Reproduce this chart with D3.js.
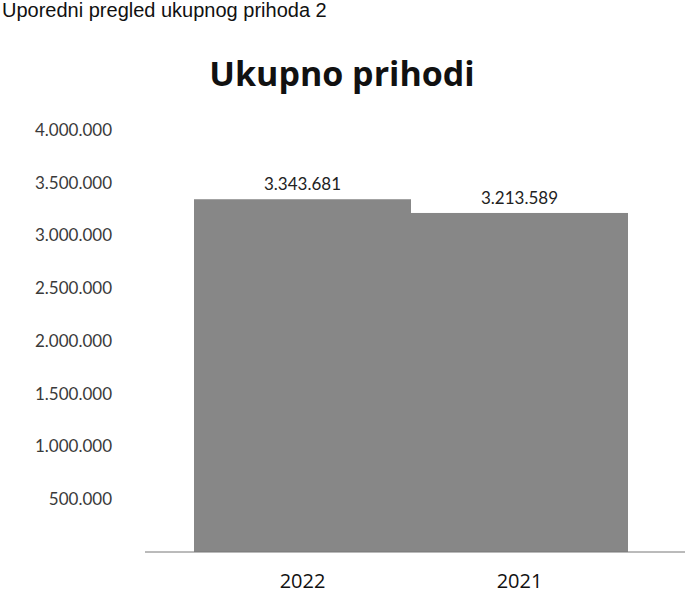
<!DOCTYPE html>
<html>
<head>
<meta charset="utf-8">
<script src="https://cdn.jsdelivr.net/npm/d3@7"></script>
<style>
  body { margin: 0; background: #fff; }
  svg { display: block; }
  .tick-label { font-family: Lato, "Open Sans", sans-serif; font-size: 17px; fill: #3a3a3a; }
  .val-label { font-family: Lato, "Open Sans", sans-serif; font-size: 17px; fill: #222; }
  .cat-label { font-family: "Open Sans", Lato, sans-serif; font-size: 20px; fill: #111; }
</style>
</head>
<body>
<div class="svg-container"></div>
<script>
// data
var years = ["2022", "2021"];
var prihodi = [3343681, 3213589];
var yTicks = [500000, 1000000, 1500000, 2000000, 2500000, 3000000, 3500000, 4000000];

var width = 685, height = 597;

var svg = d3.select(".svg-container")
    .append("svg")
    .attr("width", width)
    .attr("height", height);

// heading at the top of the scanned page
svg.append("text")
    .attr("x", 2)
    .attr("y", 17)
    .style("font-family", "'Liberation Sans', Arial, sans-serif")
    .style("font-size", "20px")
    .style("fill", "#111")
    .text("Uporedni pregled ukupnog prihoda 2");

svg.append("text")
    .attr("x", 342)
    .attr("y", 86)
    .attr("text-anchor", "middle")
    .style("font-family", "'Open Sans', sans-serif")
    .style("font-weight", "700")
    .style("font-size", "34px")
    .style("fill", "#111")
    .text("Ukupno prihodi");

var data = years.map((y, i) => ({ year: y, value: prihodi[i] }));

var xScale = d3.scaleBand()
    .domain(years)
    .range([194, 628])
    .padding(0);

var yScale = d3.scaleLinear()
    .domain([0, 4000000])
    .range([552, 130]);

var fmt = d => d3.format(",")(d).replace(/,/g, ".");

// y labels only, no axis line / gridlines
var yAxis = d3.axisLeft(yScale)
    .tickValues(yTicks)
    .tickSize(0)
    .tickPadding(0)
    .tickFormat(fmt);

var gy = svg.append("g")
    .attr("transform", "translate(112,0)")
    .call(yAxis);
gy.select(".domain").remove();
gy.selectAll("text").attr("class", "tick-label").attr("font-size", null).attr("font-family", null);

svg.selectAll(".bar")
    .data(data)
    .enter()
    .append("rect")
    .attr("class", "bar")
    .attr("x", d => xScale(d.year))
    .attr("width", xScale.bandwidth())
    .attr("y", d => yScale(d.value))
    .attr("height", d => yScale(0) - yScale(d.value))
    .attr("fill", "#878787");

// baseline
svg.append("line")
    .attr("x1", 145)
    .attr("x2", 685)
    .attr("y1", yScale(0))
    .attr("y2", yScale(0))
    .attr("stroke", "#777")
    .attr("stroke-width", 1);

svg.selectAll(".val-label")
    .data(data)
    .enter()
    .append("text")
    .attr("class", "val-label")
    .attr("x", d => xScale(d.year) + xScale.bandwidth() / 2)
    .attr("y", d => yScale(d.value) - 9)
    .attr("text-anchor", "middle")
    .text(d => fmt(d.value));

var xAxis = d3.axisBottom(xScale).tickSize(0).tickPadding(22);
var gx = svg.append("g")
    .attr("transform", `translate(0, ${yScale(0)})`)
    .call(xAxis);
gx.select(".domain").remove();
gx.selectAll("text").attr("class", "cat-label").attr("font-size", null).attr("font-family", null);
</script>
</body>
</html>
